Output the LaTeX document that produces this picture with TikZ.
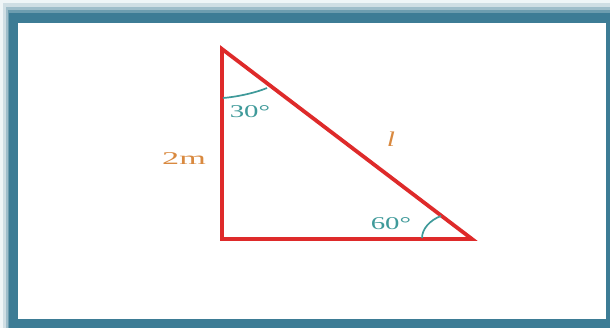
\documentclass[tikz,border=0pt]{standalone}
\usepackage{fontspec}
\setmainfont{Liberation Serif}
\definecolor{frameteal}{HTML}{3D7C95}
\definecolor{trired}{HTML}{DE2A2A}
\definecolor{angteal}{HTML}{3F9A9A}
\definecolor{lblorange}{HTML}{D9893F}
\tikzset{
  side/.style={draw=trired, line width=3.8pt, line join=miter},
  angarc/.style={draw=angteal, line width=1.7pt},
  anglbl/.style={text=angteal, font=\fontsize{18}{18}\selectfont, inner sep=0pt},
  sidelbl/.style={text=lblorange, font=\fontsize{18}{18}\selectfont, inner sep=0pt}
}
\begin{document}
\begin{tikzpicture}[x=1pt,y=-1pt]
\useasboundingbox (0,0) rectangle (610,327);
% glow
\fill[frameteal!8] (0,0) rectangle (615,332);
\fill[frameteal!25] (3,3) rectangle (615,332);
\fill[frameteal!50] (6,7) rectangle (615,332);
\fill[frameteal!75] (8,10) rectangle (615,332);
% frame
\fill[frameteal] (9,13) rectangle (615,332);
\fill[white] (18,23) rectangle (606,319);
% triangle
\coordinate (A) at (222,49);
\coordinate (B) at (222,239);
\coordinate (C) at (472,239);
\draw[side] (A) -- (B) -- (C) -- cycle;
% angle arcs
\coordinate (a1) at (223,98);
\coordinate (a2) at (267,88);
\draw[angarc] (a1) .. controls (236,97) and (255,93) .. (a2);
\coordinate (b1) at (422,238);
\coordinate (b2) at (441,216);
\draw[angarc] (b1) .. controls (422,229) and (430,220) .. (b2);
% labels
\node[anglbl] (t30) at (250,112) {\scalebox{1.6}[1]{30°}};
\node[anglbl] (t60) at (391,224) {\scalebox{1.6}[1]{60°}};
\node[sidelbl] (t2m) at (184,159) {\scalebox{1.9}[1]{2m}};
\node[sidelbl] (tl) at (391,139) {\fontsize{21}{21}\selectfont\scalebox{1.4}[1]{\itshape l}};
\end{tikzpicture}
\end{document}
